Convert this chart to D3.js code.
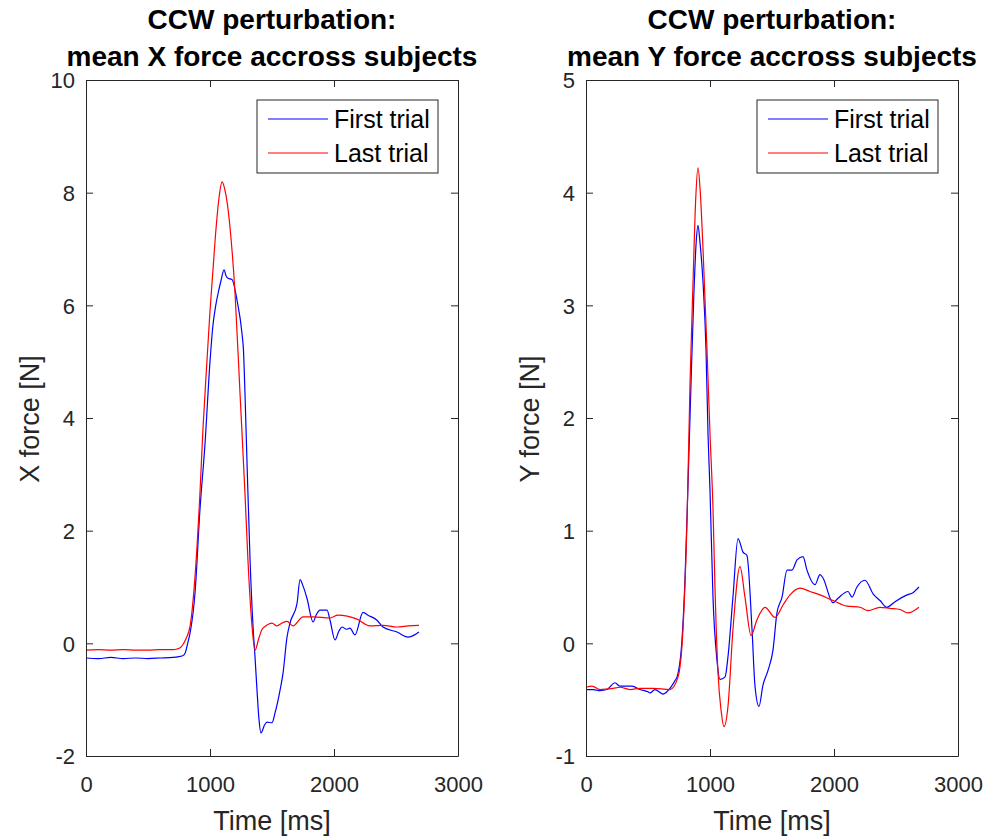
<!DOCTYPE html>
<html>
<head>
<meta charset="utf-8">
<script src="https://cdn.jsdelivr.net/npm/d3@7"></script>
<style>
  html, body { margin: 0; padding: 0; background: #fff; }
  svg { display: block; font-family: "Liberation Sans", Arial, Helvetica, sans-serif; }
</style>
</head>
<body>
<svg id="chart" width="995" height="838"></svg>
<script>
// ---------- DATA ----------
const titleLine1 = "CCW perturbation:";
const titles = ["mean X force accross subjects", "mean Y force accross subjects"];
const yLabels = ["X force [N]", "Y force [N]"];
const xLabel = "Time [ms]";
const seriesNames = ["First trial", "Last trial"];
const xTicks = [0, 1000, 2000, 3000];
const yTicksX = [-2, 0, 2, 4, 6, 8, 10];
const yTicksY = [-1, 0, 1, 2, 3, 4, 5];

// X force, first trial  [time ms, force N]
const xForceFirst = [
  [0,-0.26],[100,-0.27],[200,-0.25],[300,-0.27],[400,-0.26],[500,-0.27],[600,-0.26],[700,-0.25],
  [740,-0.24],[780,-0.22],[798,-0.18],[820,0.0],[839,0.18],[879,0.89],[919,2.37],[960,3.55],
  [1000,5.0],[1024,5.65],[1045,5.98],[1065,6.21],[1090,6.45],[1113,6.63],[1130,6.52],[1145,6.48],
  [1177,6.46],[1218,6.09],[1258,5.50],[1270,5.2],[1282,4.44],[1298,3.25],[1323,1.48],[1347,0.30],
  [1363,-0.24],[1379,-0.83],[1395,-1.35],[1411,-1.59],[1440,-1.45],[1460,-1.40],[1500,-1.41],
  [1524,-1.24],[1565,-0.83],[1589,-0.53],[1621,0.11],[1645,0.36],[1702,0.71],[1726,1.13],
  [1750,1.02],[1782,0.80],[1831,0.38],[1860,0.52],[1887,0.59],[1944,0.59],[1968,0.41],
  [2008,0.06],[2040,0.22],[2065,0.29],[2100,0.25],[2129,0.27],[2169,0.15],[2234,0.55],
  [2274,0.50],[2347,0.41],[2395,0.29],[2508,0.20],[2597,0.11],[2650,0.15],[2685,0.20]
];
// X force, last trial
const xForceLast = [
  [0,-0.12],[100,-0.11],[200,-0.12],[300,-0.11],[400,-0.12],[500,-0.12],[600,-0.11],[700,-0.11],
  [734,-0.10],[760,-0.08],[782,-0.02],[810,0.10],[839,0.30],[879,1.18],[919,2.67],[944,3.84],
  [976,5.03],[1000,5.9],[1024,6.63],[1050,7.4],[1075,7.95],[1097,8.19],[1120,8.05],[1140,7.8],
  [1161,7.39],[1202,6.21],[1242,4.44],[1282,2.67],[1306,1.48],[1339,0.30],[1363,-0.12],
  [1395,0.10],[1420,0.25],[1444,0.30],[1500,0.36],[1540,0.31],[1581,0.36],[1621,0.39],
  [1669,0.31],[1750,0.47],[1831,0.47],[1968,0.45],[2032,0.50],[2185,0.43],[2290,0.31],
  [2395,0.32],[2508,0.29],[2600,0.31],[2685,0.32]
];
// Y force, first trial
const yForceFirst = [
  [0,-0.41],[60,-0.41],[113,-0.42],[169,-0.41],[234,-0.35],[274,-0.38],[371,-0.38],[435,-0.41],
  [500,-0.43],[516,-0.44],[556,-0.41],[621,-0.45],[677,-0.40],[718,-0.33],[734,-0.30],[774,0.03],
  [798,0.56],[823,1.42],[847,2.31],[870,3.1],[888,3.55],[903,3.71],[920,3.55],[944,3.20],
  [968,2.60],[984,1.86],[1000,1.36],[1024,0.41],[1056,-0.15],[1081,-0.32],[1121,-0.30],
  [1145,-0.12],[1185,0.41],[1226,0.93],[1266,0.81],[1298,0.78],[1339,0.12],[1363,-0.38],
  [1395,-0.56],[1427,-0.37],[1468,-0.24],[1508,-0.06],[1540,0.27],[1581,0.41],[1621,0.65],
  [1661,0.65],[1702,0.74],[1750,0.77],[1782,0.65],[1847,0.52],[1887,0.61],[1911,0.58],
  [1992,0.36],[2032,0.40],[2113,0.46],[2145,0.41],[2185,0.50],[2250,0.56],[2315,0.44],
  [2371,0.38],[2427,0.32],[2492,0.37],[2589,0.43],[2637,0.45],[2685,0.50]
];
// Y force, last trial
const yForceLast = [
  [0,-0.39],[48,-0.38],[113,-0.41],[218,-0.40],[274,-0.39],[355,-0.41],[435,-0.40],[540,-0.40],
  [677,-0.41],[742,-0.30],[782,0.12],[815,1.1],[839,2.31],[863,3.20],[885,3.95],[903,4.22],
  [922,4.0],[944,3.49],[976,2.60],[1000,1.86],[1024,1.2],[1040,0.5],[1065,-0.27],[1090,-0.6],
  [1113,-0.74],[1145,-0.56],[1185,0.12],[1242,0.68],[1282,0.41],[1331,0.07],[1379,0.21],
  [1444,0.32],[1524,0.23],[1589,0.34],[1645,0.43],[1726,0.49],[1806,0.46],[1887,0.43],
  [1992,0.38],[2105,0.33],[2210,0.32],[2274,0.29],[2371,0.32],[2452,0.31],[2532,0.30],
  [2597,0.27],[2685,0.32]
];

// ---------- LAYOUT ----------
const svg = d3.select("#chart");
const colors = ["#0000FF", "#FF0000"];
const axColor = "#262626";

const panels = [
  { left: 86, right: 458, yDomain: [-2, 10], yTicks: yTicksX, series: [xForceFirst, xForceLast],
    title: titles[0], ylabel: yLabels[0] },
  { left: 586, right: 958, yDomain: [-1, 5], yTicks: yTicksY, series: [yForceFirst, yForceLast],
    title: titles[1], ylabel: yLabels[1] }
];
const plotTop = 80, plotBottom = 756, tickLen = 7;
const fmt = d => String(d);

panels.forEach(p => {
  const x = d3.scaleLinear().domain([0, 3000]).range([p.left, p.right]);
  const y = d3.scaleLinear().domain(p.yDomain).range([plotBottom, plotTop]);
  const g = svg.append("g");

  const line = d3.line().x(d => x(d[0])).y(d => y(d[1])).curve(d3.curveMonotoneX);
  p.series.forEach((s, i) => {
    g.append("path").datum(s).attr("d", line)
      .attr("fill", "none").attr("stroke", colors[i]).attr("stroke-width", 1.2)
      .attr("stroke-linejoin", "round");
  });

  const axB = d3.axisBottom(x).tickValues(xTicks).tickFormat(fmt).tickSizeInner(-tickLen).tickSizeOuter(0).tickPadding(20);
  const axT = d3.axisTop(x).tickValues(xTicks).tickSizeInner(-tickLen).tickSizeOuter(0).tickFormat("");
  const axL = d3.axisLeft(y).tickValues(p.yTicks).tickFormat(fmt).tickSizeInner(-tickLen).tickSizeOuter(0).tickPadding(18);
  const axR = d3.axisRight(y).tickValues(p.yTicks).tickSizeInner(-tickLen).tickSizeOuter(0).tickFormat("");

  const gb = g.append("g").attr("transform", `translate(0,${plotBottom})`).call(axB);
  const gt = g.append("g").attr("transform", `translate(0,${plotTop})`).call(axT);
  const gl = g.append("g").attr("transform", `translate(${p.left},0)`).call(axL);
  const gr = g.append("g").attr("transform", `translate(${p.right},0)`).call(axR);
  [gb, gt, gl, gr].forEach(a => {
    a.select(".domain").attr("stroke", axColor).attr("stroke-width", 1);
    a.selectAll(".tick line").attr("stroke", axColor).attr("stroke-width", 1);
    a.selectAll(".tick text").attr("fill", axColor).style("font-size", "22px")
      .style("font-family", '"Liberation Sans", Arial, sans-serif');
  });
  gb.selectAll(".tick text").attr("dy", "0.72em");
  gl.selectAll(".tick text").attr("dy", "0.36em").attr("x", -11);

  g.append("text").attr("x", (p.left + p.right) / 2).attr("y", 830)
    .attr("text-anchor", "middle").attr("fill", axColor).style("font-size", "27px").text(xLabel);
  g.append("text").attr("transform", `translate(${p.left - 47},${(plotTop + plotBottom) / 2 + 1}) rotate(-90)`)
    .attr("text-anchor", "middle").attr("fill", axColor).style("font-size", "27px").text(p.ylabel);

  const cx = (p.left + p.right) / 2;
  g.append("text").attr("x", cx).attr("y", 29).attr("text-anchor", "middle")
    .style("font-size", "28px").style("font-weight", "bold").attr("fill", "#000").text(titleLine1);
  g.append("text").attr("x", cx).attr("y", 66).attr("text-anchor", "middle")
    .style("font-size", "28px").style("font-weight", "bold").attr("fill", "#000").text(p.title);

  const lx0 = p.right - 201, lx1 = p.right - 20, ly0 = 100, ly1 = 173;
  g.append("rect").attr("x", lx0).attr("y", ly0).attr("width", lx1 - lx0).attr("height", ly1 - ly0)
    .attr("fill", "#fff").attr("stroke", axColor).attr("stroke-width", 1);
  seriesNames.forEach((n, i) => {
    const yy = 119 + i * 34;
    g.append("line").attr("x1", lx0 + 11).attr("x2", lx0 + 71).attr("y1", yy).attr("y2", yy)
      .attr("stroke", colors[i]).attr("stroke-width", 1.2);
    g.append("text").attr("x", lx0 + 77).attr("y", yy + 9).attr("fill", "#000")
      .style("font-size", "25px").text(n);
  });
});
</script>
</body>
</html>
